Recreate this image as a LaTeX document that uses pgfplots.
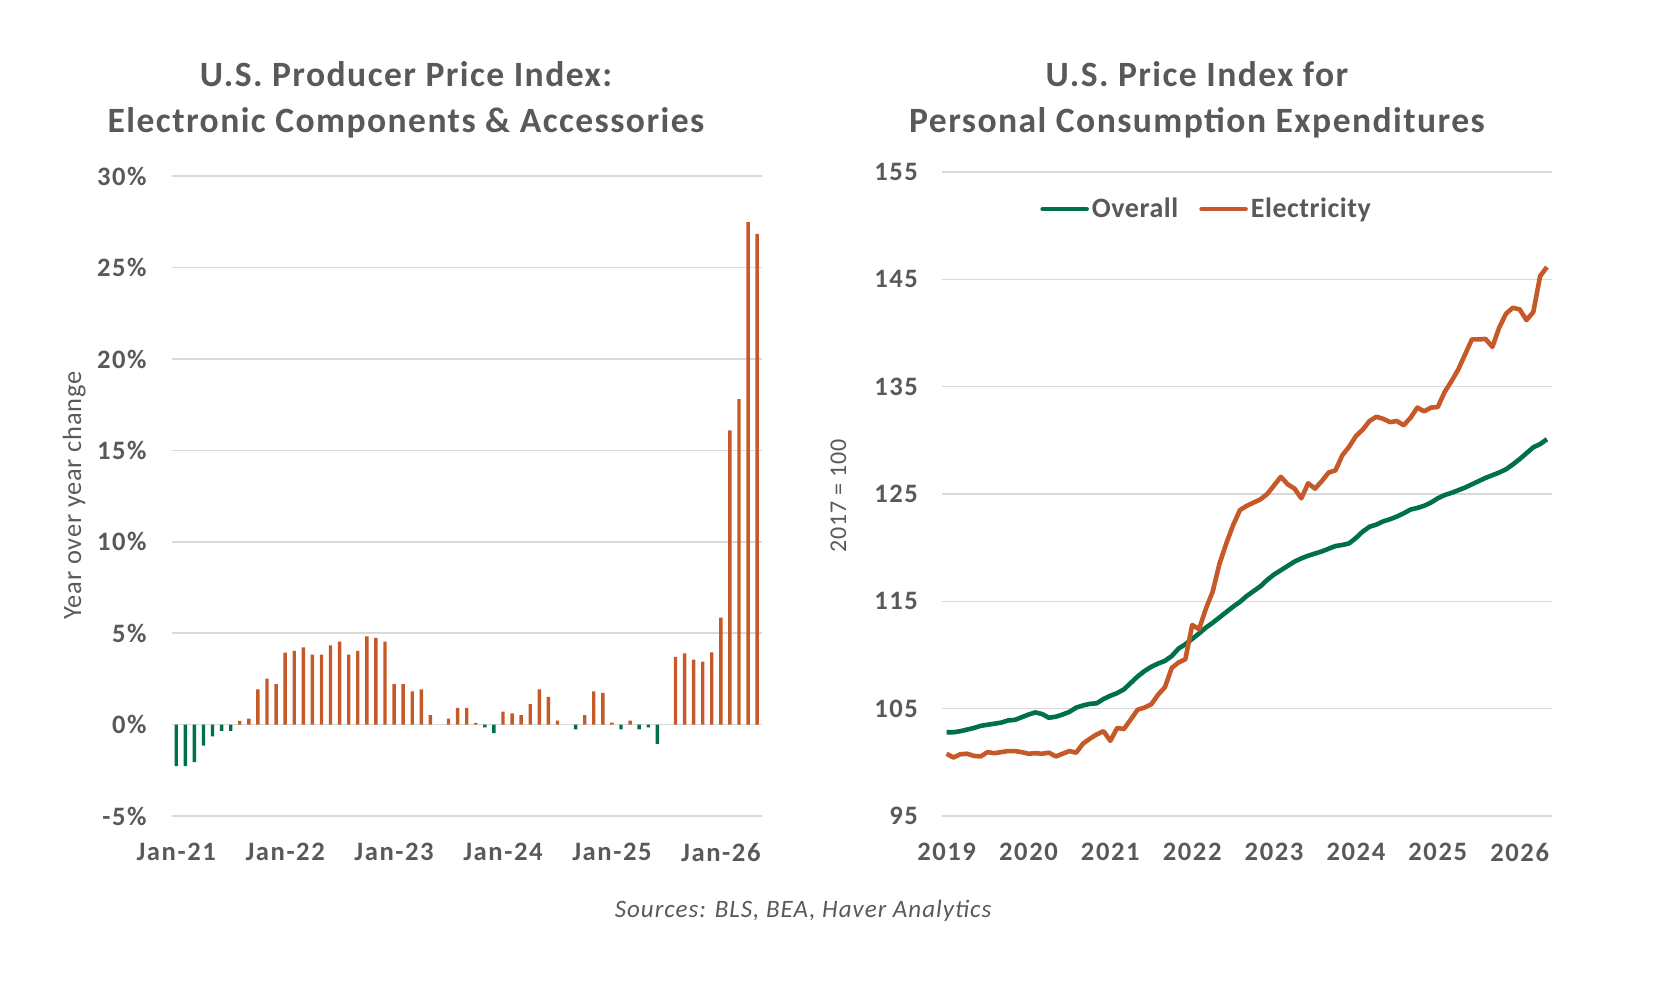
\documentclass[border=0pt]{standalone}
\usepackage{fontspec}
\setmainfont{Carlito}
\usepackage{pgfplots}
\pgfplotsset{compat=1.18}
\usepackage{pgfplotstable}
\definecolor{pgreen}{HTML}{00704A}
\definecolor{porange}{HTML}{C55A28}
\definecolor{txt}{HTML}{595959}
\definecolor{gridc}{HTML}{D9D9D9}

\newfontfamily\tickfont[LetterSpace=6]{Carlito}
\newfontfamily\titlefont[LetterSpace=4]{Carlito}
\newfontfamily\legfont[LetterSpace=2]{Carlito}
\newfontfamily\srcfont[LetterSpace=4]{Carlito}
\newfontfamily\labfont[LetterSpace=3]{Carlito}

\pgfplotstableread{
m overall elec
0 102.8 100.8
1 102.8 100.45
2 102.9 100.75
3 103.05 100.8
4 103.2 100.6
5 103.4 100.55
6 103.5 100.95
7 103.6 100.85
8 103.7 100.95
9 103.9 101.05
10 103.95 101.05
11 104.2 100.95
12 104.45 100.8
13 104.65 100.85
14 104.5 100.8
15 104.15 100.9
16 104.25 100.55
17 104.45 100.8
18 104.7 101.05
19 105.1 100.9
20 105.3 101.75
21 105.45 102.2
22 105.5 102.6
23 105.9 102.9
24 106.2 102.0
25 106.45 103.2
26 106.8 103.1
27 107.4 104.0
28 108.0 104.9
29 108.5 105.1
30 108.9 105.4
31 109.2 106.3
32 109.45 107.0
33 109.9 108.8
34 110.6 109.3
35 111.0 109.6
36 111.5 112.8
37 112.0 112.4
38 112.55 114.3
39 113.0 115.9
40 113.5 118.5
41 114.0 120.4
42 114.5 122.1
43 114.95 123.5
44 115.5 123.9
45 115.95 124.2
46 116.4 124.5
47 117.0 125.0
48 117.5 125.8
49 117.9 126.6
50 118.3 125.9
51 118.7 125.5
52 119.0 124.6
53 119.25 126.0
54 119.45 125.5
55 119.65 126.2
56 119.9 127.0
57 120.15 127.2
58 120.25 128.6
59 120.4 129.4
60 120.9 130.4
61 121.5 131.0
62 121.95 131.8
63 122.15 132.2
64 122.45 132.0
65 122.65 131.7
66 122.9 131.8
67 123.2 131.4
68 123.55 132.1
69 123.7 133.05
70 123.9 132.7
71 124.2 133.05
72 124.6 133.1
73 124.9 134.5
74 125.1 135.5
75 125.35 136.6
76 125.6 138.0
77 125.9 139.4
78 126.2 139.4
79 126.5 139.45
80 126.75 138.7
81 127.0 140.5
82 127.3 141.8
83 127.75 142.35
84 128.25 142.2
85 128.8 141.2
86 129.35 141.95
87 129.65 145.3
88 130.1 146.15
}\pcedata

\begin{document}
\begin{tikzpicture}[x=1pt,y=1pt]
\path[use as bounding box] (0,0) rectangle (832,494);

% ---------- left chart ----------
\begin{axis}[
  at={(85.85pt,86pt)}, anchor=south west, scale only axis,
  width=295pt, height=319.9pt,
  xmin=-0.5, xmax=64.5, ymin=-5, ymax=30,
  axis line style={draw=none}, major tick length=0pt,
  ymajorgrids, major grid style={draw=gridc, line width=0.8pt},
  ytick={-5,0,5,10,15,20,25,30},
  yticklabels={-5\%,0\%,5\%,10\%,15\%,20\%,25\%,30\%},
  xtick={0,12,24,36,48,60},
  xticklabels={Jan-21,Jan-22,Jan-23,Jan-24,Jan-25,Jan-26},
  tick label style={font=\tickfont\fontsize{13.3}{15}\selectfont\bfseries, text=txt},
  yticklabel style={xshift=-9pt},
  xticklabel style={yshift=-10pt},
  ybar, bar width=1.7pt, bar shift=0pt,
  clip=false,
]
\addplot[fill=porange, draw=none, bar shift=0pt] coordinates {
(7,0.2) (8,0.32) (9,1.93) (10,2.51) (11,2.21) (12,3.94) (13,4.03) (14,4.22)
(15,3.83) (16,3.83) (17,4.33) (18,4.54) (19,3.83) (20,4.03) (21,4.83) (22,4.74)
(23,4.54) (24,2.21) (25,2.21) (26,1.82) (27,1.93) (28,0.52) (30,0.32) (31,0.91)
(32,0.91) (33,0.1) (36,0.71) (37,0.61) (38,0.52) (39,1.12) (40,1.93) (41,1.52)
(42,0.22) (45,0.52) (46,1.82) (47,1.73) (48,0.11) (50,0.22) (55,3.7) (56,3.9)
(57,3.55) (58,3.45) (59,3.95) (60,5.85) (61,16.1) (62,17.8) (63,27.5) (64,26.85)
};
\addplot[fill=pgreen, draw=none, bar shift=0pt] coordinates {
(0,-2.27) (1,-2.27) (2,-2.06) (3,-1.15) (4,-0.65) (5,-0.35) (6,-0.35)
(34,-0.15) (35,-0.46) (44,-0.26) (49,-0.26) (51,-0.26) (52,-0.15) (53,-1.06)
};
\end{axis}

% ---------- right chart ----------
\begin{axis}[
  at={(471pt,86pt)}, anchor=south west, scale only axis,
  width=304.75pt, height=322pt,
  xmin=-0.674, xmax=88.67, ymin=95, ymax=155,
  axis line style={draw=none}, major tick length=0pt,
  ymajorgrids, major grid style={draw=gridc, line width=0.8pt},
  ytick={95,105,115,125,135,145,155},
  yticklabels={95,105,115,125,135,145,155},
  xtick={0,12,24,36,48,60,72,84},
  xticklabels={2019,2020,2021,2022,2023,2024,2025,2026},
  tick label style={font=\tickfont\fontsize{13.3}{15}\selectfont\bfseries, text=txt},
  yticklabel style={xshift=-8.5pt},
  xticklabel style={yshift=-10pt},
  legend columns=2,
  legend style={at={(0.435,0.9425)}, anchor=center, draw=none, fill=none,
    font=\legfont\fontsize{14}{16}\selectfont\bfseries, text=txt,
    /tikz/every even column/.append style={column sep=9pt},
    inner sep=0pt, nodes={inner sep=1.5pt}},
  legend image code/.code={\draw[#1, line width=2.3pt, line cap=round] (0pt,0pt) -- (22pt,0pt);},
]
\addplot[pgreen, line width=2.3pt, line join=round, mark=none] table[x=m, y=overall] {\pcedata};
\addlegendentry{Overall}
\addplot[porange, line width=2.3pt, line join=round, mark=none] table[x=m, y=elec] {\pcedata};
\addlegendentry{Electricity}
\end{axis}

% ---------- titles and labels ----------
\begin{scope}[every node/.style={text=txt}]
\node[font=\titlefont\fontsize{17.8}{20}\selectfont\bfseries] at (203,456.85) {U.S. Producer Price Index:};
\node[font=\titlefont\fontsize{17.8}{20}\selectfont\bfseries] at (203,432.5) {Electronic Components \& Accessories};
\node[font=\titlefont\fontsize{17.8}{20}\selectfont\bfseries] at (598.5,456.85) {U.S. Price Index for};
\node[font=\titlefont\fontsize{17.8}{20}\selectfont\bfseries] at (598.5,432.5) {Personal Consumption Expenditures};
\node[rotate=90, font=\labfont\fontsize{13.2}{15}\selectfont] at (37.15,246.2) {Year over year change};
\node[rotate=90, font=\labfont\fontsize{12}{14}\selectfont] at (419.2,246.2) {2017 = 100};
\node[font=\srcfont\fontsize{12.5}{14}\selectfont\itshape] at (401.5,38.75) {Sources: BLS, BEA, Haver Analytics};
\end{scope}
\end{tikzpicture}
\end{document}
